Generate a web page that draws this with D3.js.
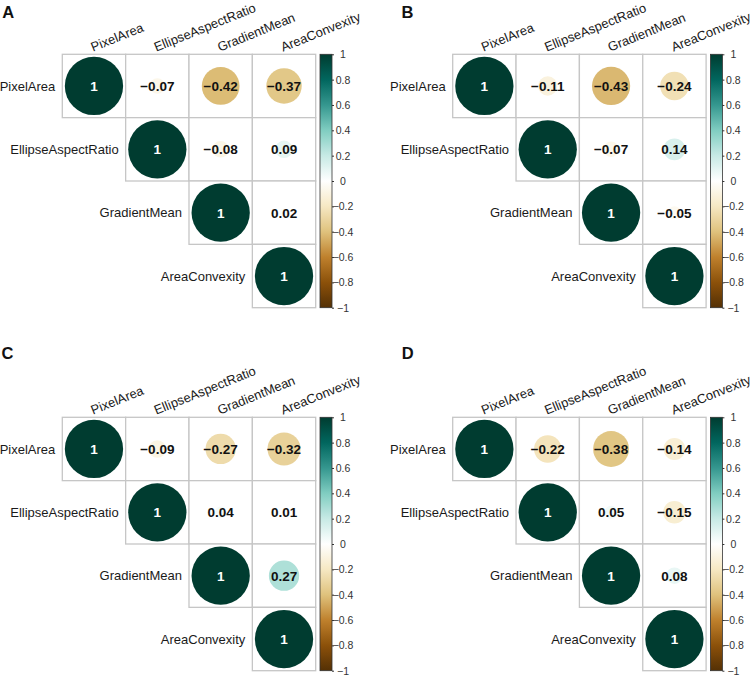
<!DOCTYPE html>
<html><head><meta charset="utf-8">
<script src="https://cdn.jsdelivr.net/npm/d3@7"></script>
<style>body{margin:0;background:#fff;} svg{display:block;}</style>
</head><body>
<svg id="c" width="754" height="676"></svg>
<script>
// ---- data ----
const variables = ["PixelArea", "EllipseAspectRatio", "GradientMean", "AreaConvexity"];
const panelLetters = ["A", "B", "C", "D"];
// upper-triangle correlations, row by row (including diagonal)
const corrA = [[1, -0.07, -0.42, -0.37], [1, -0.08, 0.09], [1, 0.02], [1]];
const corrB = [[1, -0.11, -0.43, -0.24], [1, -0.07, 0.14], [1, -0.05], [1]];
const corrC = [[1, -0.09, -0.27, -0.32], [1, 0.04, 0.01], [1, 0.27], [1]];
const corrD = [[1, -0.22, -0.38, -0.14], [1, 0.05, -0.15], [1, 0.08], [1]];
const colorbarTicks = [-1, -0.8, -0.6, -0.4, -0.2, 0, 0.2, 0.4, 0.6, 0.8, 1];
const paletteStops = [-1, -0.8, -0.6, -0.4, -0.2, 0, 0.2, 0.4, 0.6, 0.8, 1];
const paletteColors = ["#543005", "#8C510A", "#BF812D", "#DFC27D", "#F6E8C3", "#FFFFFF",
                       "#C7EAE5", "#80CDC1", "#35978F", "#01665E", "#003C30"];

// ---- layout ----
const panels = [
  {letter: panelLetters[0], data: corrA, gx: 62.3, gy: 54.3, lx: 2.3, ly: 17.5},
  {letter: panelLetters[1], data: corrB, gx: 452.7, gy: 54.3, lx: 401.5, ly: 17.5},
  {letter: panelLetters[2], data: corrC, gx: 62.3, gy: 417.3, lx: 1.5, ly: 358.5},
  {letter: panelLetters[3], data: corrD, gx: 452.7, gy: 417.3, lx: 401.8, ly: 359}
];
const gridSize = 253.4;
const FONT = "'Liberation Sans', Arial, Helvetica, sans-serif";
const color = d3.scaleLinear().domain(paletteStops).range(paletteColors).interpolate(d3.interpolateRgb);
const fmt = v => v === 1 ? "1" : d3.format(".2f")(v).replace("-", "\u2212");

const svg = d3.select("#c");
const defs = svg.append("defs");
const grad = defs.append("linearGradient").attr("id", "cbar")
  .attr("x1", 0).attr("y1", 1).attr("x2", 0).attr("y2", 0);
grad.selectAll("stop").data(d3.range(0, 1.0001, 0.02)).join("stop")
  .attr("offset", d => d).attr("stop-color", d => color(d * 2 - 1));

panels.forEach(p => {
  const g = svg.append("g").attr("transform", `translate(${p.gx},${p.gy})`);
  const band = d3.scaleBand().domain(variables).range([0, gridSize]);
  const cs = band.bandwidth();
  const rScale = d3.scaleSqrt().domain([0, 1]).range([0, cs * 0.46]);

  const cells = [];
  p.data.forEach((row, i) => row.forEach((v, k) => {
    const j = i + k;
    cells.push({row: variables[i], col: variables[j], v});
  }));

  // cell borders
  g.selectAll("rect.cell").data(cells).join("rect").attr("class", "cell")
    .attr("x", d => band(d.col)).attr("y", d => band(d.row))
    .attr("width", cs).attr("height", cs)
    .attr("fill", "#fff").attr("stroke", "#c6c6c6").attr("stroke-width", 1.3);

  // circles
  g.selectAll("circle").data(cells).join("circle")
    .attr("cx", d => band(d.col) + cs / 2).attr("cy", d => band(d.row) + cs / 2)
    .attr("r", d => rScale(Math.abs(d.v)))
    .attr("fill", d => color(d.v));

  // coefficients
  g.selectAll("text.coef").data(cells).join("text").attr("class", "coef")
    .attr("x", d => band(d.col) + cs / 2).attr("y", d => band(d.row) + cs / 2)
    .attr("dy", "0.36em").attr("text-anchor", "middle")
    .attr("font-family", FONT).attr("font-weight", "bold").attr("font-size", 13.5)
    .attr("fill", d => d.v === 1 ? "#fff" : "#111")
    .text(d => fmt(d.v));

  // row labels
  g.selectAll("text.rl").data(variables).join("text").attr("class", "rl")
    .attr("x", (d, i) => band(d) - 7).attr("y", d => band(d) + cs / 2)
    .attr("dy", "0.35em").attr("text-anchor", "end")
    .attr("font-family", FONT).attr("font-size", 13).attr("fill", "#1a1a1a")
    .text(d => d);

  // column labels
  g.selectAll("text.cl").data(variables).join("text").attr("class", "cl")
    .attr("transform", d => `translate(${band(d) + cs / 2 - 1},-2.5) rotate(-22)`)
    .attr("font-family", FONT).attr("font-size", 13).attr("fill", "#1a1a1a")
    .text(d => d);

  // colorbar
  const bx = gridSize + 4.3, bw = 12;
  const cy = d3.scaleLinear().domain([-1, 1]).range([gridSize, 0]);
  g.append("rect").attr("x", bx).attr("y", 0).attr("width", bw).attr("height", gridSize)
    .attr("fill", "url(#cbar)").attr("stroke", "#333").attr("stroke-width", 0.8);
  const ax = g.append("g").attr("transform", `translate(${bx + bw},0)`)
    .call(d3.axisRight(cy).tickValues(colorbarTicks).tickSize(2).tickPadding(0)
      .tickFormat(v => v === 0 ? "0" : (Math.abs(v) === 1 ? String(v) : d3.format(".1f")(v)).replace("-", "\u2212")));
  ax.select(".domain").remove();
  ax.selectAll(".tick line").attr("stroke", "#333");
  ax.selectAll(".tick text").attr("x", 11).attr("text-anchor", "middle")
    .attr("font-family", FONT).attr("font-size", 10.5).attr("fill", "#333");

  // panel letter
  svg.append("text").attr("x", p.lx).attr("y", p.ly)
    .attr("font-family", FONT).attr("font-weight", "bold").attr("font-size", 16.5)
    .attr("fill", "#111").text(p.letter);
});
</script>
</body></html>
